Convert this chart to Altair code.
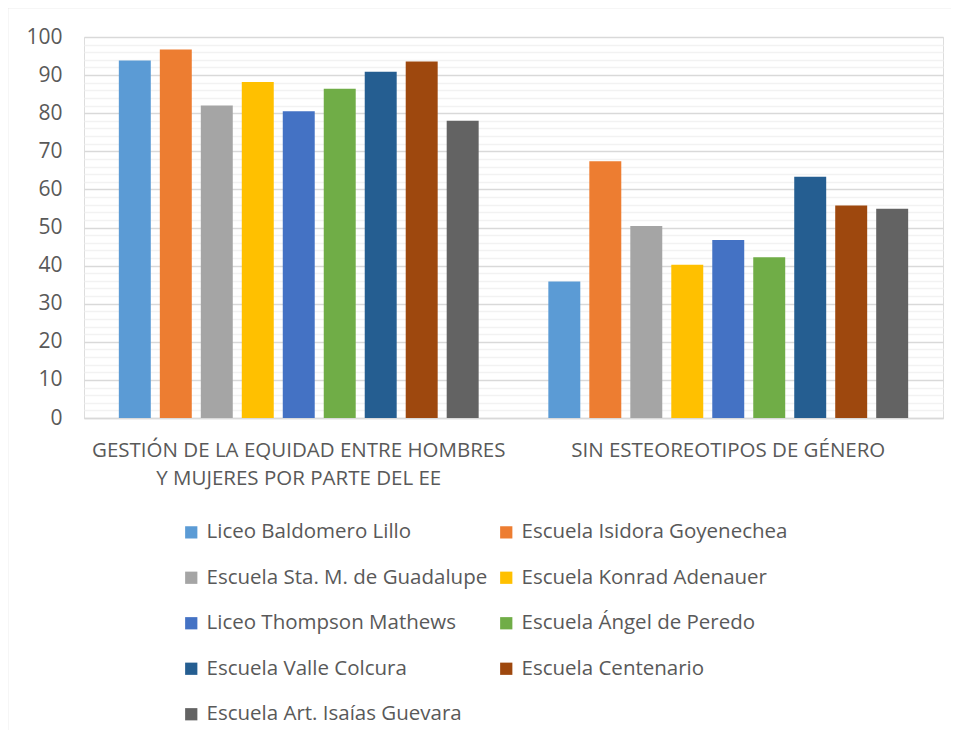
import altair as alt
import pandas as pd

categories = [
    "GESTIÓN DE LA EQUIDAD ENTRE HOMBRES\nY MUJERES POR PARTE DEL EE",
    "SIN ESTEOREOTIPOS DE GÉNERO",
]
schools = [
    "Liceo Baldomero Lillo",
    "Escuela Isidora Goyenechea",
    "Escuela Sta. M. de Guadalupe",
    "Escuela Konrad Adenauer",
    "Liceo Thompson Mathews",
    "Escuela Ángel de Peredo",
    "Escuela Valle Colcura",
    "Escuela Centenario",
    "Escuela Art. Isaías Guevara",
]
colors = ["#5B9BD5", "#ED7D31", "#A5A5A5", "#FFC000", "#4472C4",
          "#70AD47", "#255E91", "#9E480E", "#636363"]
values_gestion = [93.8, 96.7, 82.0, 88.2, 80.5, 86.4, 90.9, 93.6, 78.0]
values_estereotipos = [35.8, 67.4, 50.4, 40.2, 46.7, 42.2, 63.3, 55.8, 54.9]
y_ticks = list(range(0, 101, 2))

rows = []
for s, v in zip(schools, values_gestion):
    rows.append({"cat": categories[0], "school": s, "value": v})
for s, v in zip(schools, values_estereotipos):
    rows.append({"cat": categories[1], "school": s, "value": v})
df = pd.DataFrame(rows)

# legend fills column-major; reorder so it reads row-major in 2 columns
legend_order = [0, 2, 4, 6, 8, 1, 3, 5, 7]
legend_domain = [schools[i] for i in legend_order]
legend_range = [colors[i] for i in legend_order]

FONT = "Open Sans"
TXT = "#595959"

bars = alt.Chart(df).mark_bar().encode(
    x=alt.X("cat:N", sort=categories, title=None,
            scale=alt.Scale(paddingInner=0, paddingOuter=0),
            axis=alt.Axis(labelAngle=0, labelExpr="split(datum.label, '\\n')",
                          labelFont=FONT, labelFontSize=20.5, labelColor=TXT,
                          labelPadding=22, labelLineHeight=28, labelLimit=600,
                          ticks=False, domainColor="#d9d9d9", domainWidth=1.5)),
    xOffset=alt.XOffset("school:N", sort=schools,
                        scale=alt.Scale(paddingInner=0.22, paddingOuter=0.85)),
    y=alt.Y("value:Q", title=None,
            scale=alt.Scale(domain=[0, 100], nice=False),
            axis=alt.Axis(values=y_ticks,
                          labelExpr="datum.value % 10 === 0 ? datum.label : ''",
                          labelFont=FONT, labelFontSize=21, labelColor=TXT,
                          labelPadding=22, ticks=False, domain=False,
                          gridColor={"expr": "datum.value % 10 === 0 ? '#d9d9d9' : '#f2f2f2'"},
                          gridWidth=1.5)),
    color=alt.Color("school:N",
                    scale=alt.Scale(domain=legend_domain, range=legend_range),
                    legend=alt.Legend(title=None, orient="none", legendX=97, legendY=485,
                                      columns=2, columnPadding=8, rowPadding=24.5,
                                      symbolType="square", symbolSize=150,
                                      symbolStrokeWidth=0, labelOffset=5,
                                      labelFont=FONT, labelFontSize=20.5,
                                      labelColor=TXT, labelLimit=400, padding=0)),
)

frame_left = alt.Chart().mark_rule(color="#d9d9d9", strokeWidth=1.5).encode(
    x=alt.value(-76.5), y=alt.value(-29.5), y2=alt.value(720))
frame_top = alt.Chart().mark_rule(color="#d9d9d9", strokeWidth=1.5).encode(
    x=alt.value(-76.5), x2=alt.value(900), y=alt.value(-29.5))

chart = alt.layer(bars, frame_left, frame_top).properties(
    width=859, height=381,
    autosize=alt.AutoSizeParams(type="none"),
    padding={"left": 76, "top": 29, "right": 8, "bottom": 312},
).configure_view(stroke=None).configure(background="white")

chart.save("out.html", embed_options={"renderer": "svg", "actions": False})
